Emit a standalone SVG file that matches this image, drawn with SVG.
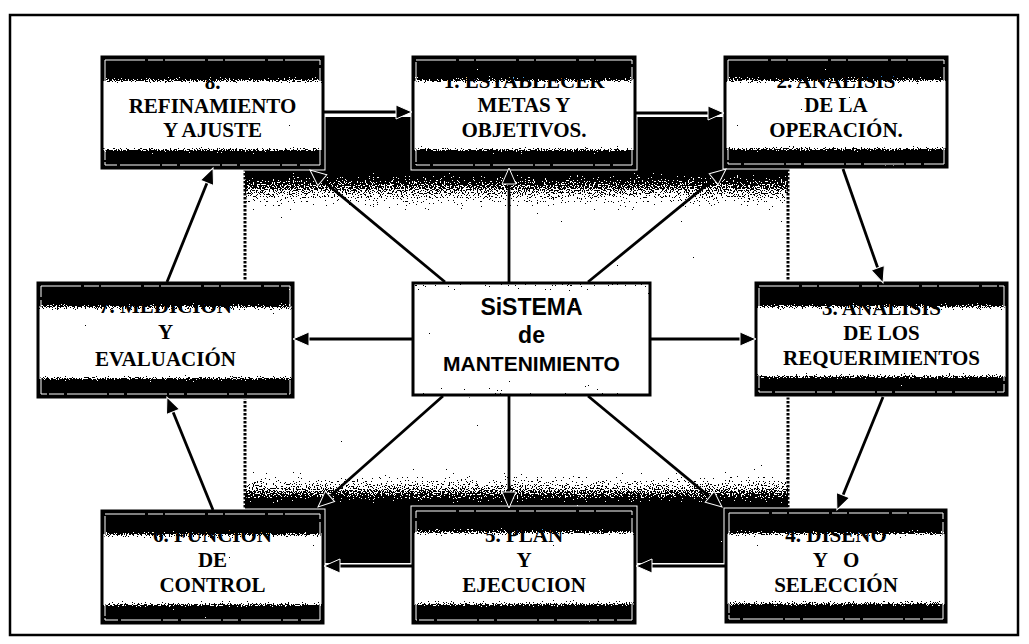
<svg xmlns="http://www.w3.org/2000/svg" width="1029" height="644" viewBox="0 0 1029 644">
  <style>
    .frame { fill: none; stroke: #000; stroke-width: 2.5; }
    .halo { fill: none; stroke: #fff; stroke-width: 5; }
    .body { fill: url(#nodeFill); filter: url(#grain); }
    .edge { fill: none; stroke: #000; stroke-width: 3; }
    .inner { fill: none; stroke: #fff; stroke-width: 1; stroke-dasharray: 40 3 15 2; }
    .core { fill: url(#coreFill); filter: url(#grain); }
    .lbl { font-family: "Liberation Serif", "Times New Roman", serif; font-weight: bold; font-size: 21px; text-anchor: middle; fill: #000; }
    .ctr { font-family: "Liberation Sans", Arial, sans-serif; font-weight: bold; font-size: 21px; text-anchor: middle; fill: #000; }
    .big { font-size: 23px; }
    .link { fill: none; stroke: #000; stroke-width: 2.8; marker-end: url(#head); }
    .dots { fill: none; stroke: #000; stroke-width: 3; stroke-dasharray: 2.5 1.5; }
  </style>
  <defs>
    <!-- dithering: gray level plus noise, thresholded to black/white -->
    <filter id="grain" x="0" y="0" width="1" height="1" filterUnits="objectBoundingBox" color-interpolation-filters="sRGB">
      <feTurbulence type="fractalNoise" baseFrequency="0.75" numOctaves="1" seed="7" result="n"/>
      <feColorMatrix in="n" type="matrix" values="1 0 0 0 0  1 0 0 0 0  1 0 0 0 0  0 0 0 0 1" result="nr"/>
      <feComposite in="SourceGraphic" in2="nr" operator="arithmetic" k1="0" k2="1" k3="1.5" k4="-0.75" result="sum"/>
      <feComponentTransfer in="sum" result="bw">
        <feFuncR type="discrete" tableValues="0 1"/>
        <feFuncG type="discrete" tableValues="0 1"/>
        <feFuncB type="discrete" tableValues="0 1"/>
      </feComponentTransfer>
      <feComposite in="bw" in2="SourceGraphic" operator="in"/>
    </filter>
    <linearGradient id="nodeFill" x1="0" y1="0" x2="0" y2="1">
      <stop offset="0" stop-color="#000"/>
      <stop offset="0.16" stop-color="#000"/>
      <stop offset="0.2" stop-color="#555"/>
      <stop offset="0.24" stop-color="#ddd"/>
      <stop offset="0.27" stop-color="#fff"/>
      <stop offset="0.79" stop-color="#fff"/>
      <stop offset="0.82" stop-color="#bbb"/>
      <stop offset="0.86" stop-color="#222"/>
      <stop offset="0.88" stop-color="#000"/>
      <stop offset="1" stop-color="#000"/>
    </linearGradient>
    <linearGradient id="coreFill" x1="0" y1="0" x2="0" y2="1">
      <stop offset="0" stop-color="#bbb"/>
      <stop offset="0.1" stop-color="#eee"/>
      <stop offset="0.18" stop-color="#fff"/>
      <stop offset="0.84" stop-color="#fff"/>
      <stop offset="0.92" stop-color="#e4e4e4"/>
      <stop offset="1" stop-color="#ccc"/>
    </linearGradient>
    <!-- backdrop: dark top band, clear middle, dark bottom band (y 117..563) -->
    <linearGradient id="backFill" gradientUnits="userSpaceOnUse" x1="0" y1="117" x2="0" y2="563">
      <stop offset="0" stop-color="#000"/>
      <stop offset="0.119" stop-color="#000"/>
      <stop offset="0.132" stop-color="#333"/>
      <stop offset="0.159" stop-color="#777"/>
      <stop offset="0.186" stop-color="#bbb"/>
      <stop offset="0.213" stop-color="#eee"/>
      <stop offset="0.253" stop-color="#fff"/>
      <stop offset="0.76" stop-color="#fff"/>
      <stop offset="0.803" stop-color="#ddd"/>
      <stop offset="0.837" stop-color="#888"/>
      <stop offset="0.866" stop-color="#222"/>
      <stop offset="0.877" stop-color="#000"/>
      <stop offset="1" stop-color="#000"/>
    </linearGradient>
    <marker id="head" markerUnits="userSpaceOnUse" markerWidth="18" markerHeight="16" refX="6" refY="8" orient="auto" overflow="visible">
      <path d="M0,1 L16,8 L0,15 z" fill="#000" stroke="#fff" stroke-width="1"/>
    </marker>
  </defs>

  <!-- outer frame -->
  <rect class="frame" x="10" y="15" width="1008" height="620"/>

  <!-- shaded backdrop behind the cycle -->
  <g id="backdrop">
    <rect x="245" y="117" width="543" height="446" fill="url(#backFill)" filter="url(#grain)"/>
    <line class="dots" x1="245" y1="117" x2="245" y2="563"/>
    <line class="dots" x1="788" y1="117" x2="788" y2="563"/>
  </g>

  <g id="n8">
    <rect class="halo" x="102" y="57" width="221" height="111"/>
    <rect class="body" x="102" y="57" width="221" height="111"/>
    <rect class="edge" x="102" y="57" width="221" height="111"/>
    <rect class="inner" x="105" y="60" width="215" height="105"/>
    <text class="lbl" x="212.5" y="89">8.</text>
    <text class="lbl" x="212.5" y="113">REFINAMIENTO</text>
    <text class="lbl" x="212.5" y="137">Y AJUSTE</text>
  </g>

  <g id="n1">
    <rect class="halo" x="413" y="57" width="222" height="111"/>
    <rect class="body" x="413" y="57" width="222" height="111"/>
    <rect class="edge" x="413" y="57" width="222" height="111"/>
    <rect class="inner" x="416" y="60" width="216" height="105"/>
    <text class="lbl" x="524" y="88">1. ESTABLECER</text>
    <text class="lbl" x="524" y="112">METAS Y</text>
    <text class="lbl" x="524" y="137">OBJETIVOS.</text>
  </g>

  <g id="n2">
    <rect class="halo" x="725" y="57" width="222" height="110"/>
    <rect class="body" x="725" y="57" width="222" height="110"/>
    <rect class="edge" x="725" y="57" width="222" height="110"/>
    <rect class="inner" x="728" y="60" width="216" height="104"/>
    <text class="lbl" x="836" y="88">2. ANALISIS</text>
    <text class="lbl" x="836" y="112">DE LA</text>
    <text class="lbl" x="836" y="137">OPERACIÓN.</text>
  </g>

  <g id="n7">
    <rect class="halo" x="38" y="283" width="255" height="114"/>
    <rect class="body" x="38" y="283" width="255" height="114"/>
    <rect class="edge" x="38" y="283" width="255" height="114"/>
    <rect class="inner" x="41" y="286" width="249" height="108"/>
    <text class="lbl" x="165.5" y="313">7. MEDICION</text>
    <text class="lbl" x="165.5" y="339">Y</text>
    <text class="lbl" x="165.5" y="366">EVALUACIÓN</text>
  </g>

  <g id="center">
    <rect class="halo" x="413" y="283" width="237" height="112"/>
    <rect class="core" x="413" y="283" width="237" height="112"/>
    <rect class="edge" x="413" y="283" width="237" height="112"/>
    <text class="ctr big" x="531.5" y="315">SiSTEMA</text>
    <text class="ctr big" x="531.5" y="343">de</text>
    <text class="ctr" x="531.5" y="371">MANTENIMIENTO</text>
  </g>

  <g id="n3">
    <rect class="halo" x="756" y="283" width="251" height="112"/>
    <rect class="body" x="756" y="283" width="251" height="112"/>
    <rect class="edge" x="756" y="283" width="251" height="112"/>
    <rect class="inner" x="759" y="286" width="245" height="106"/>
    <text class="lbl" x="881.5" y="315">3. ANALISIS</text>
    <text class="lbl" x="881.5" y="340">DE LOS</text>
    <text class="lbl" x="881.5" y="365">REQUERIMIENTOS</text>
  </g>

  <g id="n6">
    <rect class="halo" x="102" y="511" width="221" height="112"/>
    <rect class="body" x="102" y="511" width="221" height="112"/>
    <rect class="edge" x="102" y="511" width="221" height="112"/>
    <rect class="inner" x="105" y="514" width="215" height="106"/>
    <text class="lbl" x="212.5" y="542">6. FUNCION</text>
    <text class="lbl" x="212.5" y="567">DE</text>
    <text class="lbl" x="212.5" y="592">CONTROL</text>
  </g>

  <g id="n5">
    <rect class="halo" x="413" y="508" width="222" height="115"/>
    <rect class="body" x="413" y="508" width="222" height="115"/>
    <rect class="edge" x="413" y="508" width="222" height="115"/>
    <rect class="inner" x="416" y="511" width="216" height="109"/>
    <text class="lbl" x="524" y="542">5. PLAN</text>
    <text class="lbl" x="524" y="567">Y</text>
    <text class="lbl" x="524" y="592">EJECUCION</text>
  </g>

  <g id="n4">
    <rect class="halo" x="726" y="510" width="220" height="112"/>
    <rect class="body" x="726" y="510" width="220" height="112"/>
    <rect class="edge" x="726" y="510" width="220" height="112"/>
    <rect class="inner" x="729" y="513" width="214" height="106"/>
    <text class="lbl" x="836" y="542">4. DISENO</text>
    <text class="lbl" x="836" y="567" xml:space="preserve">Y   O</text>
    <text class="lbl" x="836" y="592">SELECCIÓN</text>
  </g>

  <!-- connectors, drawn over the node halos so the tips meet the borders -->
  <g id="connectors">
    <!-- cycle -->
    <line class="link" x1="324" y1="112" x2="402" y2="112"/>
    <line class="link" x1="636" y1="113" x2="714" y2="113"/>
    <line class="link" x1="843" y1="169" x2="879.7" y2="273.5"/>
    <line class="link" x1="883" y1="397" x2="840.7" y2="500.7"/>
    <line class="link" x1="725" y1="566" x2="646" y2="566"/>
    <line class="link" x1="412" y1="566" x2="334" y2="566"/>
    <line class="link" x1="213" y1="510" x2="170.7" y2="406.3"/>
    <line class="link" x1="167" y1="282" x2="209.3" y2="177.3"/>
    <!-- from the centre -->
    <line class="link" x1="445" y1="282" x2="317.7" y2="176.4"/>
    <line class="link" x1="509" y1="282" x2="509" y2="178"/>
    <line class="link" x1="588" y1="282" x2="718.3" y2="175.4"/>
    <line class="link" x1="412" y1="339" x2="303" y2="339"/>
    <line class="link" x1="651" y1="339" x2="746" y2="339"/>
    <line class="link" x1="443" y1="396" x2="325.5" y2="500.3"/>
    <line class="link" x1="509" y1="396" x2="509" y2="498"/>
    <line class="link" x1="588" y1="396" x2="714.3" y2="500.6"/>
  </g>
</svg>
